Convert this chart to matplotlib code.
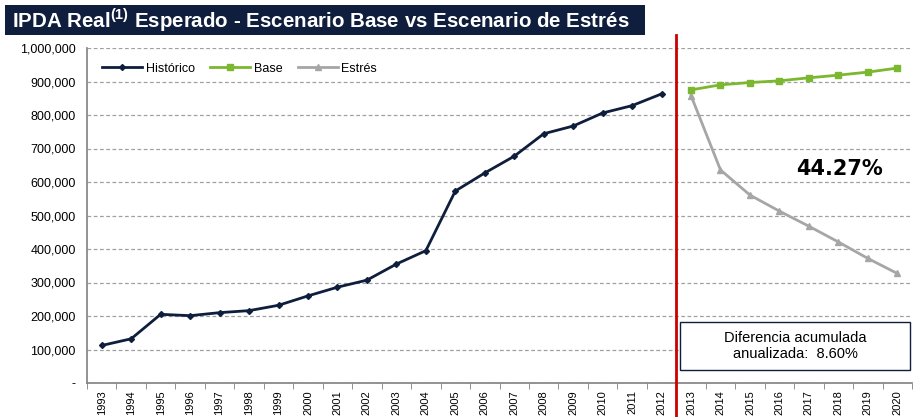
import numpy as np
import matplotlib
matplotlib.use("Agg")
import matplotlib.pyplot as plt
from matplotlib.patches import Rectangle
from matplotlib.ticker import FuncFormatter, MultipleLocator, FixedLocator

plt.rcParams['font.family'] = ['Liberation Sans', 'DejaVu Sans']
plt.rcParams['mathtext.fontset'] = 'custom'
plt.rcParams['mathtext.rm'] = 'Liberation Sans:bold'
plt.rcParams['mathtext.bf'] = 'Liberation Sans:bold'

years = list(range(1993, 2021))
hist_years = list(range(1993, 2013))
proj_years = list(range(2013, 2021))

historico = [112000, 132000, 205000, 201000, 210000, 216000, 232000, 260000,
             286000, 307000, 355000, 395000, 573000, 627000, 677000, 744000,
             767000, 806000, 828000, 863000]
base = [875000, 890000, 897000, 902000, 911000, 919000, 928000, 940000]
estres = [858000, 636000, 561000, 513000, 468000, 421000, 372000, 327000]

title = "IPDA Real$^{(1)}$ Esperado - Escenario Base vs Escenario de Estrés"
diff_total = "44.27%"
box_text = "Diferencia acumulada\nanualizada:  8.60%"

navy = '#0f1e3c'
green = '#7cb82f'
grey = '#a6a6a6'
red = '#cc0000'

fig = plt.figure(figsize=(9.15, 4.17), dpi=100)
W, H = 915, 417

# title bar
fig.patches.append(Rectangle((5 / W, 1 - 35 / H), 640 / W, 30 / H, transform=fig.transFigure,
                             facecolor=navy, edgecolor='none', zorder=0))
fig.text(12 / W, 1 - 20 / H, title, color='white', fontsize=14.8, fontweight='bold',
         va='center', ha='left')

ax = fig.add_axes([87 / W, 34 / H, 825 / W, 335 / H])

xi = {y: i for i, y in enumerate(years)}
hx = [xi[y] for y in hist_years]
px = [xi[y] for y in proj_years]

ax.plot(hx, historico, color=navy, lw=2, marker='D', ms=3, label='Histórico', zorder=3)
ax.plot(px, base, color=green, lw=2, marker='s', ms=4.5, label='Base', zorder=3)
ax.plot(px, estres, color=grey, lw=2, marker='^', ms=4.5, label='Estrés', zorder=2)

ax.set_xlim(-0.5, len(years) - 0.5)
ax.set_ylim(0, 1000000)
ax.yaxis.set_major_locator(MultipleLocator(100000))
ax.yaxis.set_major_formatter(FuncFormatter(lambda v, p: '-' if v == 0 else f'{v:,.0f}'))
ax.grid(axis='y', color='#a0a0a0', ls=(0, (3, 2)), lw=0.9)
ax.set_axisbelow(True)

ax.xaxis.set_major_locator(FixedLocator(range(len(years))))
ax.set_xticklabels([str(y) for y in years], rotation=90, fontsize=8)
ax.xaxis.set_minor_locator(FixedLocator(np.arange(-0.5, len(years), 1)))
ax.tick_params(axis='x', which='major', length=0, pad=5)
ax.tick_params(axis='x', which='minor', length=4, color='#808080', direction='out')
ax.tick_params(axis='y', length=0, labelsize=9, pad=8)

for s in ['top', 'right']:
    ax.spines[s].set_visible(False)
for s in ['left', 'bottom']:
    ax.spines[s].set_color('#808080')
    ax.spines[s].set_linewidth(1.2)

# red separator between historical and projected
sep = xi[2013] - 0.5
ax.plot([sep, sep], [-0.12, 1.04], color=red, lw=2,
        transform=ax.get_xaxis_transform(), clip_on=False, zorder=4)

ax.legend(loc='upper left', ncol=3, frameon=False, fontsize=9, bbox_to_anchor=(0.005, 0.99),
          handlelength=3.2, columnspacing=1.2, handletextpad=0.3)

ax.text(xi[2018] + 0.05, 640000, diff_total, fontsize=15, fontweight='bold',
        family='DejaVu Sans', ha='center', va='center')

# annotation box
fig.patches.append(Rectangle((680 / W, 1 - 370 / H), 230 / W, 48 / H, transform=fig.transFigure,
                             facecolor='white', edgecolor=navy, lw=1, zorder=5))
fig.text(795 / W, 1 - 346 / H, box_text, ha='center', va='center', fontsize=10.5,
         linespacing=1.2, zorder=6)

fig.savefig('out.png', dpi=100)
